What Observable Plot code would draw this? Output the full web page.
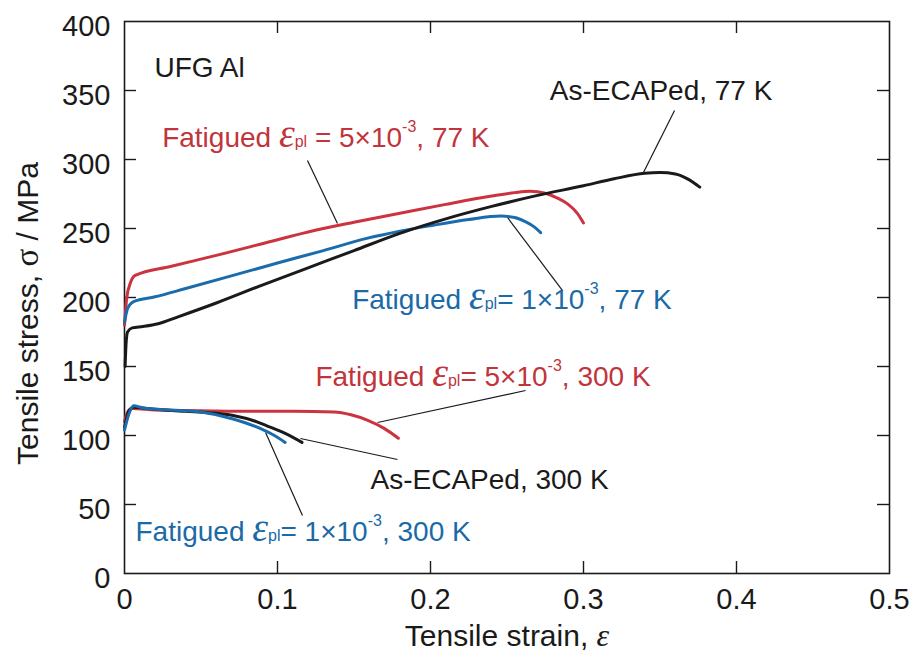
<!DOCTYPE html>
<html>
<head>
<meta charset="utf-8">
<script src="https://cdn.jsdelivr.net/npm/d3@7"></script>
<script src="https://cdn.jsdelivr.net/npm/@observablehq/plot@0.6"></script>
<style>
  body { margin: 0; background: #fff; }
  #chart { width: 913px; height: 657px; }
  #chart text { white-space: pre; }
</style>
</head>
<body>
<div id="chart"></div>
<script>
// Tensile stress–strain curves of UFG Al (as-ECAPed and fatigued), 77 K and 300 K

// As-ECAPed, 77 K
const ecap77Strain = [0.0004, 0.001, 0.002, 0.005, 0.012, 0.022, 0.035, 0.06, 0.09, 0.12, 0.15, 0.18, 0.21, 0.24, 0.27, 0.30, 0.32, 0.34, 0.35, 0.36, 0.368, 0.376];
const ecap77Stress = [150, 166, 175, 178, 179, 181, 186, 196, 209, 221.5, 234, 246.5, 257, 266, 274, 281, 286, 290, 290.5, 289.5, 286, 280];

// Fatigued, eps_pl = 5e-3, 77 K
const fat5e77Strain = [0.0, 0.0015, 0.004, 0.007, 0.03, 0.06, 0.09, 0.12, 0.15, 0.18, 0.21, 0.24, 0.255, 0.265, 0.275, 0.283, 0.29, 0.296, 0.30];
const fat5e77Stress = [180, 200, 211, 216, 222.5, 230.5, 239, 247.5, 254.5, 261, 267.5, 273.5, 276, 277, 275.5, 272, 267.5, 261, 254];

// Fatigued, eps_pl = 1e-3, 77 K
const fat1e77Strain = [0.0, 0.002, 0.006, 0.02, 0.04, 0.071, 0.10, 0.13, 0.159, 0.18, 0.20, 0.225, 0.246, 0.255, 0.262, 0.268, 0.272];
const fat1e77Stress = [182, 192, 197, 200.5, 206.5, 216, 225, 234, 243, 248, 252, 256.5, 259, 258, 255, 251, 247];

// As-ECAPed, 300 K
const ecap300Strain = [0.0, 0.003, 0.006, 0.02, 0.04, 0.055, 0.071, 0.085, 0.093, 0.105, 0.116];
const ecap300Stress = [106, 118, 120.5, 119, 117.5, 116.5, 114.5, 110.5, 107, 101.5, 95];

// Fatigued, eps_pl = 5e-3, 300 K
const fat5e300Strain = [0.0, 0.002, 0.005, 0.02, 0.05, 0.08, 0.11, 0.137, 0.148, 0.159, 0.17, 0.179];
const fat5e300Stress = [110, 117, 119.5, 118.5, 118, 117.5, 117.5, 117, 115, 111, 105, 98];

// Fatigued, eps_pl = 1e-3, 300 K
const fat1e300Strain = [0.0, 0.003, 0.006, 0.012, 0.03, 0.05, 0.071, 0.089, 0.098, 0.105];
const fat1e300Stress = [104, 116, 121.5, 120, 118.5, 117, 112, 105, 100, 95];

// Annotation texts and their anchor points (start of text baseline)
const labelText = [
  "UFG Al",
  "Fatigued ε_{pl} = 5×10^{-3}, 77 K",
  "As-ECAPed, 77 K",
  "Fatigued ε_{pl}= 1×10^{-3}, 77 K",
  "Fatigued ε_{pl}= 5×10^{-3}, 300 K",
  "As-ECAPed, 300 K",
  "Fatigued ε_{pl}= 1×10^{-3}, 300 K"
];
const labelStrain = [0.0196, 0.0246, 0.278, 0.1488, 0.1248, 0.1608, 0.0072];
const labelStress = [360, 309, 342.8, 191.8, 136.2, 61.4, 23.9];
const labelGroup = ["ecap", "fat5", "ecap", "fat1", "fat5", "ecap", "fat1"];

// Leader lines from annotations to curves
const leaderStrain1 = [0.1196, 0.3595, 0.2503, 0.2621, 0.115, 0.0922];
const leaderStress1 = [299.3, 335.5, 258, 132.6, 97.8, 102.2];
const leaderStrain2 = [0.1392, 0.3392, 0.2863, 0.1654, 0.1784, 0.1163];
const leaderStress2 = [253.6, 290.6, 205, 109.4, 82.6, 42];

// Axes
const xTicks = [0, 0.1, 0.2, 0.3, 0.4, 0.5];
const xTickLabels = ["0", "0.1", "0.2", "0.3", "0.4", "0.5"];
const yTicks = [0, 50, 100, 150, 200, 250, 300, 350, 400];
const yTickLabels = ["0", "50", "100", "150", "200", "250", "300", "350", "400"];
const xTitle = "Tensile strain, ε";
const yTitle = "Tensile stress, σ / MPa";

const palette = {ecap: "#1a1a1a", fat5: "#cc3340", fat1: "#1b6cad"};
const textPalette = {ecap: "#1a1a1a", fat5: "#c2343c", fat1: "#1b6aa8"};

const curves = [
  {group: "fat5", strain: fat5e77Strain, stress: fat5e77Stress},
  {group: "fat1", strain: fat1e77Strain, stress: fat1e77Stress},
  {group: "ecap", strain: ecap77Strain, stress: ecap77Stress},
  {group: "fat5", strain: fat5e300Strain, stress: fat5e300Stress},
  {group: "ecap", strain: ecap300Strain, stress: ecap300Stress},
  {group: "fat1", strain: fat1e300Strain, stress: fat1e300Stress}
];

const labels = labelText.map((t, i) => ({text: t, x: labelStrain[i], y: labelStress[i], g: labelGroup[i]}));
const leaders = leaderStrain1.map((x1, i) => ({x1, y1: leaderStress1[i], x2: leaderStrain2[i], y2: leaderStress2[i]}));

const innerX = xTicks.slice(1, -1);
const innerY = yTicks.slice(1, -1);
const TICK = 12;

const chart = Plot.plot({
  width: 913,
  height: 657,
  marginLeft: 124,
  marginRight: 24,
  marginTop: 21,
  marginBottom: 84,
  x: {domain: [0, 0.5]},
  y: {domain: [0, 400]},
  style: {fontFamily: "'Liberation Sans', Arial, Helvetica, sans-serif", background: "#fff", color: "#1a1a1a"},
  marks: [
    Plot.axisX(xTicks, {tickSize: 0, tickPadding: 15, fontSize: 29, tickFormat: (d, i) => xTickLabels[i], fill: "#1a1a1a"}),
    Plot.axisY(yTicks, {tickSize: 0, tickPadding: 14, dy: 5, fontSize: 29, tickFormat: (d, i) => yTickLabels[i], fill: "#1a1a1a", label: null}),
    // inward tick marks on all four sides
    Plot.ruleX(innerX, {x: d => d, y1: 0, y2: 0, insetTop: -TICK, stroke: "#1a1a1a", strokeWidth: 1.4}),
    Plot.ruleX(innerX, {x: d => d, y1: 400, y2: 400, insetBottom: -TICK, stroke: "#1a1a1a", strokeWidth: 1.4}),
    Plot.ruleY(innerY, {y: d => d, x1: 0, x2: 0, insetRight: -TICK, stroke: "#1a1a1a", strokeWidth: 1.4}),
    Plot.ruleY(innerY, {y: d => d, x1: 0.5, x2: 0.5, insetLeft: -TICK, stroke: "#1a1a1a", strokeWidth: 1.4}),
    Plot.frame({stroke: "#1a1a1a", strokeWidth: 1.6}),
    // leader lines
    Plot.link(leaders, {x1: "x1", y1: "y1", x2: "x2", y2: "y2", stroke: "#1a1a1a", strokeWidth: 1.2}),
    // stress-strain curves
    ...curves.map(c => Plot.line(c.strain.map((s, i) => ({s, v: c.stress[i]})), {
      x: "s", y: "v", stroke: palette[c.group], strokeWidth: 3, curve: "monotone-x",
      strokeLinecap: "round", strokeLinejoin: "round"
    })),
    // annotations
    Plot.text(labels, {x: "x", y: "y", text: "text", fill: d => textPalette[d.g], textAnchor: "start", lineAnchor: "bottom", fontSize: 28}),
    // axis titles
    Plot.text([xTitle], {frameAnchor: "bottom", dy: 72, textAnchor: "middle", lineAnchor: "bottom", fontSize: 30, fill: "#1a1a1a"}),
    Plot.text([yTitle], {frameAnchor: "left", dx: -87, dy: 16, rotate: -90, textAnchor: "middle", lineAnchor: "bottom", fontSize: 30, fill: "#1a1a1a"})
  ]
});

document.getElementById("chart").appendChild(chart);

// Rich text: greek letters in a serif face, subscripts and superscripts
const SVGNS = "http://www.w3.org/2000/svg";
function richText(el, greekSize) {
  const src = el.textContent;
  const parts = src.split(/(_\{[^}]*\}|\^\{[^}]*\}|[εσ])/).filter(s => s !== "");
  if (parts.length < 2) return;
  el.textContent = "";
  let shift = 0;
  for (const p of parts) {
    const ts = document.createElementNS(SVGNS, "tspan");
    let dy = 0;
    if (p.startsWith("_{")) {
      ts.textContent = p.slice(2, -1);
      ts.setAttribute("font-size", 16);
    } else if (p.startsWith("^{")) {
      ts.textContent = p.slice(2, -1);
      ts.setAttribute("font-size", 16);
      dy = -15;
    } else if (p === "ε" || p === "σ") {
      ts.textContent = p;
      ts.setAttribute("font-family", "'Liberation Serif', 'DejaVu Serif', serif");
      ts.setAttribute("font-style", p === "ε" ? "italic" : "normal");
      ts.setAttribute("font-size", greekSize);
    } else {
      ts.textContent = p;
    }
    if (dy !== shift) ts.setAttribute("dy", dy - shift);
    shift = dy;
    el.appendChild(ts);
  }
}
const svgEl = chart.tagName.toLowerCase() === "svg" ? chart : chart.querySelector("svg");
d3.select(svgEl).selectAll("text").each(function () {
  const t = this.textContent;
  if (t.includes("_{")) richText(this, 40);
  else if (t === xTitle) richText(this, 32);
  else if (t === yTitle) richText(this, 33);
});
</script>
</body>
</html>
